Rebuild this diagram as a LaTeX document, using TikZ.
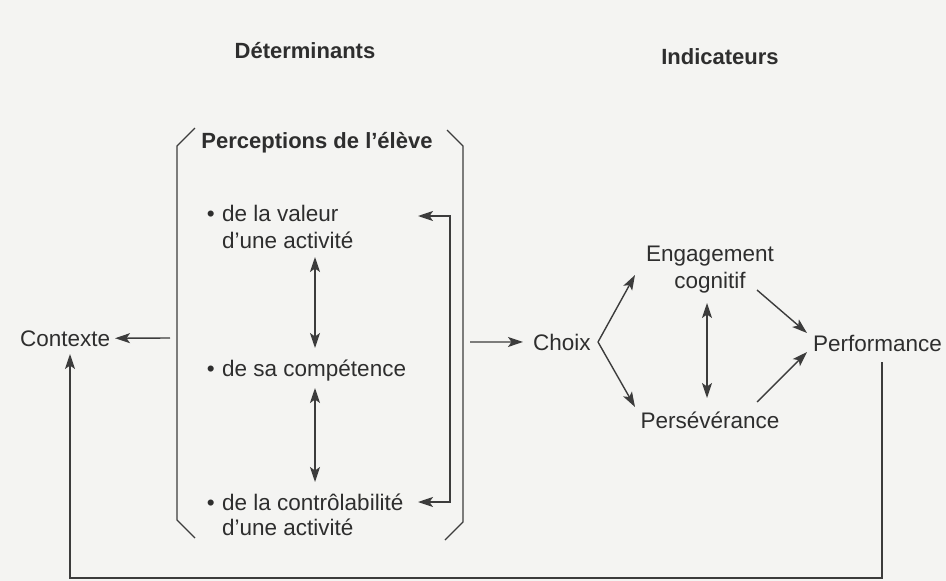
\documentclass[tikz,border=0pt]{standalone}
\usepackage{fontspec}
\setmainfont{Liberation Sans}
\usetikzlibrary{arrows.meta}
\definecolor{ink}{HTML}{2E2E2E}
\definecolor{linec}{HTML}{3C3C3C}
\definecolor{paper}{HTML}{F4F4F2}
\begin{document}
\begin{tikzpicture}[x=1pt,y=-1pt,
  txt/.style={font=\fontsize{22.5}{27}\selectfont, text=ink, inner sep=0pt, anchor=base west},
  ctxt/.style={txt, anchor=base},
  ttl/.style={font=\fontsize{22}{26}\selectfont\bfseries, text=ink, inner sep=0pt, anchor=base},
  ln/.style={draw=linec, line width=1.4pt},
  tip/.tip={Stealth[length=15pt,width=10pt,inset=3.5pt]},
  arr/.style={ln, -tip},
  darr/.style={ln, tip-tip},
  brk/.style={draw=linec, line width=1.3pt, line join=miter}
]
\fill[paper] (0,0) rectangle (946,581);
\useasboundingbox (0,0) rectangle (946,581);

% titles
\node[ttl] (det) at (305,58) {Déterminants};
\node[ttl] (ind) at (720,64) {Indicateurs};
\node[ttl] (perc) at (317,148) {Perceptions de l’élève};

% bracket
\draw[brk] (195,128) -- (177,146) -- (177,520) -- (195,538);
\draw[brk] (447,130) -- (463,146) -- (463,522) -- (445,540);

% perceptions
\node[txt, anchor=base east] (b1) at (215,221) {•};
\node[txt] (val) at (222,221) {de la valeur};
\node[txt] (val2) at (222,248) {d’une activité};
\node[txt, anchor=base east] (b2) at (215,376) {•};
\node[txt] (comp) at (222,376) {de sa compétence};
\node[txt, anchor=base east] (b3) at (215,510) {•};
\node[txt] (ctrl) at (222,510) {de la contrôlabilité};
\node[txt] (ctrl2) at (222,535) {d’une activité};

% left / right of bracket
\node[txt] (ctx) at (20,346) {Contexte};
\node[txt] (choix) at (533,350) {Choix};
\node[ctxt] (eng) at (710,261) {Engagement};
\node[ctxt] (cog) at (710,288) {cognitif};
\node[ctxt] (pers) at (710,428) {Persévérance};
\node[txt] (perf) at (813,351) {Performance};

% coordinates
\coordinate (a1) at (315,257);
\coordinate (a2) at (315,348);
\coordinate (a3) at (315,388);
\coordinate (a4) at (315,482);
\coordinate (r1) at (418,216);
\coordinate (r2) at (450,216);
\coordinate (r3) at (450,502);
\coordinate (r4) at (418,502);
\coordinate (bL) at (170,338);
\coordinate (bR) at (470,342);
\coordinate (fork) at (598,342);
\coordinate (engIn) at (635,275);
\coordinate (persIn) at (635,407);
\coordinate (ep1) at (707,303);
\coordinate (ep2) at (707,398);
\coordinate (cogOut) at (757,290);
\coordinate (perfIn1) at (807,333);
\coordinate (persOut) at (757,402);
\coordinate (perfIn2) at (807,352);
\coordinate (fbTop) at (882,362);
\coordinate (fbR) at (882,578);
\coordinate (fbL) at (70,578);
\coordinate (ctxIn) at (70,354);

% connectors
\draw[darr] (a1) -- (a2);
\draw[darr] (a3) -- (a4);
\draw[darr] (r1) -- (r2) -- (r3) -- (r4);
\draw[arr] (bL) -- (ctx.east -| 115,0);
\draw[arr] (bR) -- (choix.west -| 523,0);
\draw[arr] (fork) -- (engIn);
\draw[arr] (fork) -- (persIn);
\draw[darr] (ep1) -- (ep2);
\draw[arr] (cogOut) -- (perfIn1);
\draw[arr] (persOut) -- (perfIn2);
\draw[arr] (fbTop) -- (fbR) -- (fbL) -- (ctxIn);
\end{tikzpicture}
\end{document}
